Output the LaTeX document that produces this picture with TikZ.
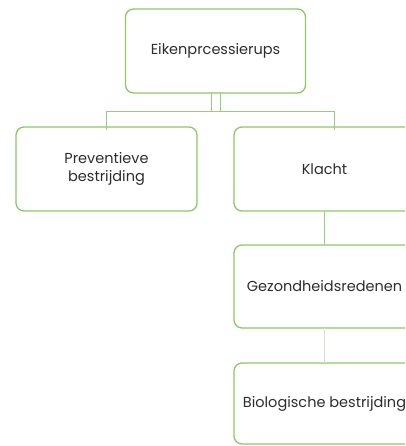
\documentclass[tikz,border=0pt]{standalone}
\usepackage{fontspec}
\setmainfont{Poppins}
\usetikzlibrary{positioning}
\definecolor{boxgreen}{RGB}{140,200,100}
\definecolor{linkgreen}{RGB}{150,205,120}
\definecolor{palegreen}{RGB}{208,230,198}
\definecolor{txtgray}{RGB}{45,45,45}
\tikzset{
  topic/.style={draw=boxgreen, line width=1.3pt, rounded corners=8pt, fill=white,
    minimum width=181pt, minimum height=84pt, align=center, text=txtgray,
    font=\fontsize{14.5}{18}\selectfont, inner sep=0pt, outer sep=0pt},
  link/.style={draw=linkgreen, line width=1pt}
}

\begin{document}
\begin{tikzpicture}[x=1pt,y=-1pt]
\useasboundingbox (0,0) rectangle (405,446);
\clip (0,0) rectangle (405,446);

% Top of the tree
\node[topic, minimum width=180pt] (eik) at (215.5,51) {Eikenprcessierups};

% Second level
\node[topic] (prev) at (106.5,169) {Preventieve\\bestrijding};
\node[topic] (klacht) at (324.5,169) {Klacht};

% Under Klacht
\node[topic, minimum height=83pt] (gez) at (324.5,286.5) {Gezondheidsredenen};
\node[topic, minimum height=81pt] (bio) at (324.5,403.5) {Biologische bestrijding};

% Connectors
\coordinate (bus) at (220,111.5);
\coordinate (pdrop) at (106.5,130);
\coordinate (kdrop) at (334,130);
\draw[link] ([xshift=-4.5pt]eik.south) -- ([xshift=-4.5pt]eik.south |- bus);
\draw[link] ([xshift=4.5pt]eik.south) -- ([xshift=4.5pt]eik.south |- bus);
\draw[link] (pdrop) |- (bus) -| (kdrop);
\draw[link] (klacht) -- (gez);
\draw[link, draw=palegreen] (gez) -- (bio);

\end{tikzpicture}
\end{document}
